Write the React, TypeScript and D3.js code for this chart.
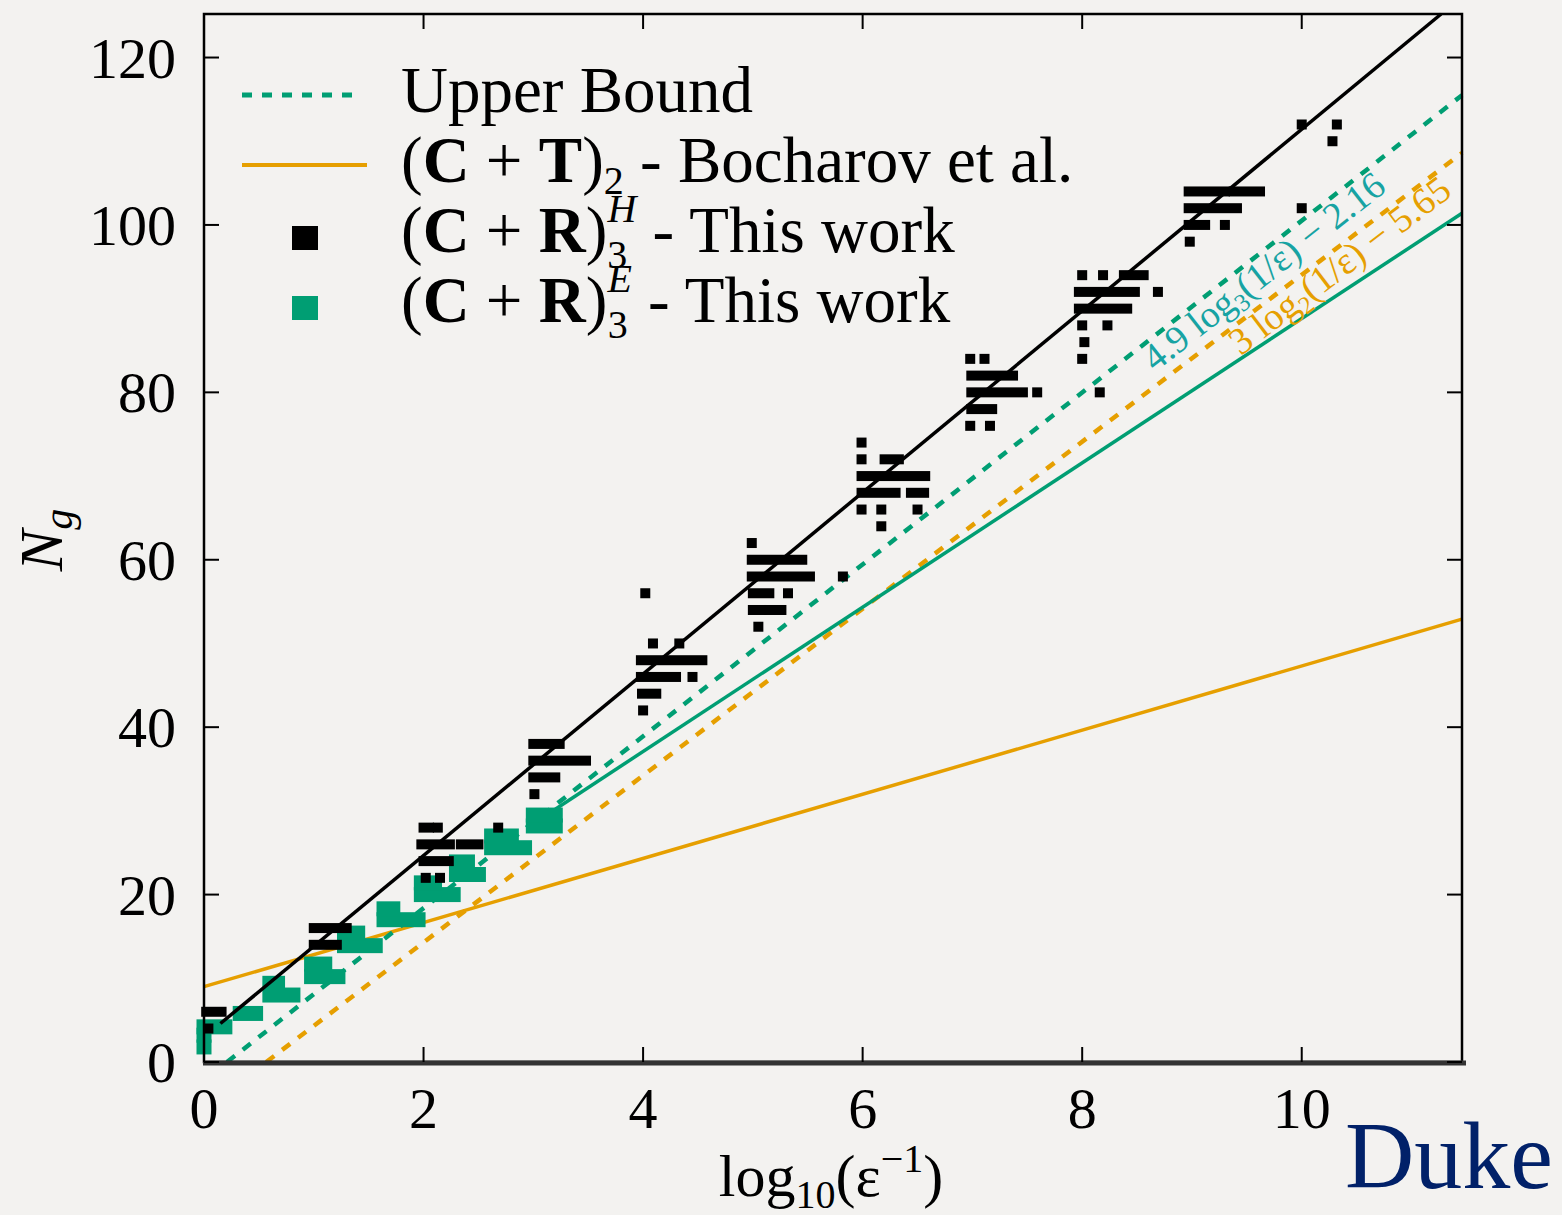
import React from 'react';
import * as d3 from 'd3';

const width = 1562;
const height = 1215;

const xTicks = [0, 2, 4, 6, 8, 10];
const yTicks = [0, 20, 40, 60, 80, 100, 120];

// (C+R)_3^H points, read as horizontal runs: [x start, x end, Ng]
const hardRuns = [
  [0.02, 0.16, 6], [0.04, 0.04, 4],
  [1.0, 1.3, 16], [1.0, 1.21, 14],
  [2.0, 2.05, 28], [2.13, 2.13, 28], [2.68, 2.68, 28], [1.98, 2.24, 26], [2.34, 2.5, 26],
  [2.0, 2.23, 24], [2.02, 2.02, 22], [2.15, 2.15, 22],
  [3.0, 3.24, 38], [3.0, 3.48, 36], [3.0, 3.2, 34], [3.01, 3.01, 32],
  [4.02, 4.02, 56], [4.09, 4.09, 50], [4.33, 4.33, 50], [3.98, 4.54, 48], [3.98, 4.3, 46],
  [4.45, 4.45, 46], [3.99, 4.12, 44], [4.0, 4.0, 42],
  [4.99, 4.99, 62], [4.99, 5.45, 60], [4.99, 5.52, 58], [5.82, 5.82, 58], [5.0, 5.15, 56],
  [5.32, 5.32, 56], [5.0, 5.08, 54], [5.15, 5.26, 54], [5.05, 5.05, 52],
  [5.99, 5.99, 74], [5.99, 5.99, 72], [6.2, 6.33, 72], [5.99, 6.57, 70], [5.99, 6.3, 68],
  [6.44, 6.56, 68], [5.99, 5.99, 66], [6.17, 6.17, 66], [6.5, 6.5, 66], [6.17, 6.17, 64],
  [6.98, 6.98, 84], [7.11, 7.11, 84], [6.99, 7.37, 82], [6.99, 7.46, 80], [7.59, 7.59, 80],
  [6.99, 7.18, 78], [6.98, 6.98, 76], [7.16, 7.16, 76],
  [8.0, 8.0, 94], [8.19, 8.19, 94], [8.38, 8.56, 94], [7.97, 8.48, 92], [8.69, 8.69, 92],
  [7.97, 8.41, 90], [8.0, 8.0, 88], [8.23, 8.23, 88], [8.02, 8.02, 86], [8.0, 8.0, 84],
  [8.16, 8.16, 80],
  [8.97, 9.3, 104], [9.38, 9.62, 104], [8.97, 9.41, 102], [8.97, 9.12, 100], [9.3, 9.3, 100],
  [8.98, 8.98, 98],
  [10.0, 10.0, 112], [10.32, 10.32, 112], [10.28, 10.28, 110], [10.0, 10.0, 102],
];

// (C+R)_3^E points, same layout
const easyRuns = [
  [0.0, 0.0, 1.8], [0.0, 0.0, 3.2], [0.0, 0.19, 4.2], [0.33, 0.47, 5.8],
  [0.6, 0.81, 8], [0.6, 0.67, 9.4],
  [0.98, 1.22, 10.2], [0.98, 1.1, 11.7], [1.28, 1.56, 13.9], [1.28, 1.4, 15.4],
  [1.64, 1.95, 17], [1.64, 1.72, 18.3], [1.98, 2.27, 20], [1.98, 2.1, 21.4],
  [2.3, 2.5, 22.4], [2.3, 2.4, 23.9], [2.62, 2.92, 25.6], [2.62, 2.8, 27],
  [3.0, 3.2, 28.2], [3.0, 3.2, 29.5],
];

// lines, as end points [x, Ng]
const hardFit = [[0.15, 4.6], [11.27, 125.2]];
const easyFit = [[3.2, 30.2], [11.46, 101.4]];
const upperBound3 = [[0.21, 0], [11.46, 115.5]];
const upperBound2 = [[0.567, 0], [11.46, 108.6]];
const bocharov = [[0, 9.0], [11.46, 52.9]];

const black = '#000';
const teal = '#009e73';
const tealText = '#17a3a3';
const orange = '#e69f00';
const font = '"Liberation Serif", "Times New Roman", serif';

const x = d3.scaleLinear().domain([0, 11.46]).range([204, 1462]);
const y = d3.scaleLinear().domain([0, 125.2]).range([1062, 14]);
const line = d3.line<number[]>().x(d => x(d[0])).y(d => y(d[1]));

const Runs = ({ runs, size, fill }) => (
  <g fill={fill}>
    {runs.map((r, i) => (
      <rect
        key={i}
        x={x(r[0]) - size / 2}
        y={y(r[2]) - size / 2}
        width={x(r[1]) - x(r[0]) + size}
        height={size}
      />
    ))}
  </g>
);

const LineLabel = ({ pts, at, offset, color, base, sub, rest }) => {
  const ang = (Math.atan2(y(pts[1][1]) - y(pts[0][1]), x(pts[1][0]) - x(pts[0][0])) * 180) / Math.PI;
  const t = (at - pts[0][0]) / (pts[1][0] - pts[0][0]);
  const v = pts[0][1] + t * (pts[1][1] - pts[0][1]);
  return (
    <g transform={`translate(${x(at)},${y(v)}) rotate(${ang})`}>
      <text y={offset} fill={color} fontSize={38} fontFamily={font}>
        {base}
        <tspan fontSize={25} dy={7}>{sub}</tspan>
        <tspan dy={-7}>{rest}</tspan>
      </text>
    </g>
  );
};

const App = () => {
  return (
    <svg width={width} height={height} style={{ position: 'absolute', left: 0, top: 0 }}>
      <rect width={width} height={height} fill="#f3f2f0" />

      {/* lines */}
      <path d={line(bocharov)} stroke={orange} strokeWidth={3.5} fill="none" />
      <path d={line(upperBound2)} stroke={orange} strokeWidth={4.5} strokeDasharray="10 10" fill="none" />
      <path d={line(upperBound3)} stroke={teal} strokeWidth={4.5} strokeDasharray="10 10" fill="none" />
      <path d={line(easyFit)} stroke={teal} strokeWidth={3.5} fill="none" />

      <Runs runs={easyRuns} size={15} fill={teal} />
      <path d={line(hardFit)} stroke={black} strokeWidth={3.5} fill="none" />
      <Runs runs={hardRuns} size={10} fill={black} />

      <LineLabel pts={upperBound3} at={8.5} offset={29} color={tealText}
        base="4.9 log" sub="3" rest="(1/ε) − 2.16" />
      <LineLabel pts={upperBound2} at={9.29} offset={28} color={orange}
        base="3 log" sub="2" rest="(1/ε) − 5.65" />

      {/* frame and ticks */}
      <rect x={204} y={14} width={1258} height={1048} fill="none" stroke={black} strokeWidth={2.5} />
      <line x1={203} x2={1466} y1={1063} y2={1063} stroke="#333" strokeWidth={5} />
      {xTicks.map(t => (
        <g key={t}>
          <line x1={x(t)} x2={x(t)} y1={1062} y2={1047} stroke={black} strokeWidth={2} />
          <line x1={x(t)} x2={x(t)} y1={14} y2={29} stroke={black} strokeWidth={2} />
          <text x={x(t)} y={1128} textAnchor="middle" fontSize={58} fontFamily={font}>{t}</text>
        </g>
      ))}
      {yTicks.map(t => (
        <g key={t}>
          <line x1={204} x2={219} y1={y(t)} y2={y(t)} stroke={black} strokeWidth={2} />
          <line x1={1462} x2={1447} y1={y(t)} y2={y(t)} stroke={black} strokeWidth={2} />
          <text x={176} y={y(t) + 20} textAnchor="end" fontSize={58} fontFamily={font}>{t}</text>
        </g>
      ))}

      {/* axis titles */}
      <text transform="translate(62,540) rotate(-90)" textAnchor="middle" fontSize={62} fontFamily={font} fontStyle="italic">
        N<tspan fontSize={42} dy={10}>g</tspan>
      </text>
      <text x={831} y={1196} textAnchor="middle" fontSize={60} fontFamily={font}>
        log<tspan fontSize={40} dy={12}>10</tspan>
        <tspan dy={-12}>(ε</tspan>
        <tspan fontSize={40} dy={-24}>−1</tspan>
        <tspan dy={24}>)</tspan>
      </text>

      {/* legend */}
      <g fontFamily={font} fontSize={65}>
        <line x1={242} x2={360} y1={95} y2={95} stroke={teal} strokeWidth={5} strokeDasharray="10 10" />
        <text x={401} y={112}>Upper Bound</text>

        <line x1={242} x2={367} y1={165} y2={165} stroke={orange} strokeWidth={4} />
        <text x={401} y={182}>
          (<tspan fontWeight="bold">C</tspan> + <tspan fontWeight="bold">T</tspan>)
          <tspan fontSize={40} dy={12}>2</tspan>
          <tspan dy={-12}>{' - Bocharov et al.'}</tspan>
        </text>

        <rect x={292} y={226} width={26} height={24} fill={black} />
        <text x={401} y={252}>
          (<tspan fontWeight="bold">C</tspan> + <tspan fontWeight="bold">R</tspan>)
          <tspan fontSize={40} fontStyle="italic" dy={-30}>H</tspan>
          <tspan fontSize={40} dx={-29} dy={46}>3</tspan>
          <tspan dx={9} dy={-16}>{' - This work'}</tspan>
        </text>

        <rect x={292} y={296} width={26} height={24} fill={teal} />
        <text x={401} y={322}>
          (<tspan fontWeight="bold">C</tspan> + <tspan fontWeight="bold">R</tspan>)
          <tspan fontSize={40} fontStyle="italic" dy={-30}>E</tspan>
          <tspan fontSize={40} dx={-24} dy={46}>3</tspan>
          <tspan dx={4} dy={-16}>{' - This work'}</tspan>
        </text>
      </g>

      <text x={1345} y={1188} fontSize={96} fontFamily={font} fill="#012169">Duke</text>
    </svg>
  );
};

export default App;
